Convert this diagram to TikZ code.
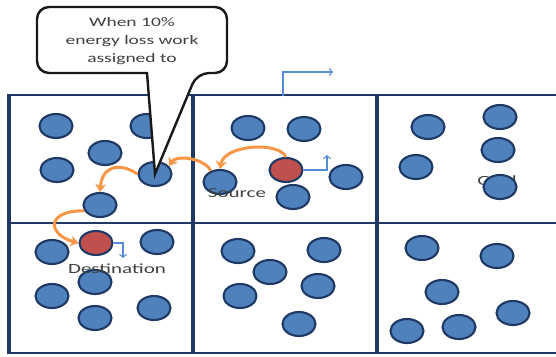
\documentclass[tikz,border=0pt]{standalone}
\usepackage{fontspec}
\usetikzlibrary{shapes.geometric,arrows.meta}
\newfontfamily\labelfont[FakeStretch=1.5]{Carlito}
\definecolor{gridline}{HTML}{1F3864}
\definecolor{peerfill}{HTML}{4F81BD}
\definecolor{hotfill}{HTML}{C0504D}
\definecolor{hopline}{HTML}{F79646}
\definecolor{flowline}{HTML}{558ED5}
\definecolor{labeltext}{HTML}{404040}

\begin{document}
\begin{tikzpicture}[x=1pt, y=-1pt,
  peer/.style={ellipse, draw=gridline, line width=2.1pt, fill=peerfill,
    minimum width=33pt, minimum height=24pt, inner sep=0pt},
  hot/.style={peer, fill=hotfill},
  hop/.style={hopline, line width=3pt, -{Stealth[length=8pt,width=11pt]}},
  flow/.style={flowline, line width=1.1pt, -{Straight Barb[length=3pt,width=7pt]}},
  tag/.style={text=labeltext, font=\labelfont\fontsize{14}{16}\selectfont, inner sep=0pt}]

 \useasboundingbox (0,0) rectangle (556,356);

	%grid
    \foreach \y in {95,223,353}{
        \draw[gridline, line width=2.4pt] (9,\y) -- (556,\y);
    }
    \foreach \x in {9,193,377}{
        \draw[gridline, line width=3.4pt] (\x,94) -- (\x,354);
    }

	%goal label sits under its peer
 \node[tag] (goal) at (497,181) {Goal};

	%peers
    \foreach \x/\y/\name in {56/126/a1,147/126/a2,105/153/a3,57/170/a4,155/174/a5,100/205/a6,
                            248/128/b1,304/129/b2,346/177/b3,220/182/sc,293/197/b5,
                            428/127/c1,500/117/c2,498/150/c3,416/167/c4,500/187/c5}{
        \node[peer] (\name) at (\x,\y) {};
    }
    \foreach \x/\y/\name in {52/252/d1,157/242/d2,95/282/d3,52/296/d4,154/308/d5,95/318/d6,
                            238/251/e1,324/250/e2,270/272/e3,318/286/e4,240/296/e5,299/324/e6,
                            422/248/f1,497/256/f2,442/292/f3,513/313/f4,459/327/f5,407/331/f6}{
        \node[peer] (\name) at (\x,\y) {};
    }
 \node[hot] (src) at (286,170) {};
 \node[hot] (dst) at (96,243) {};

 \node[tag] (srclabel) at (237,193) {Source};
 \node[tag] (dstlabel) at (117,269) {Destination};

	%hops
 \draw[hop] (src.north) .. controls +(-8,-16) and +(4,-24) .. (sc.north);
 \draw[hop] (sc.130) .. controls +(-5,-12) and +(8,-12) .. (a5.30);
 \draw[hop] (a5.west) .. controls +(-18,-12) and +(2,-26) .. (a6.north);
 \draw[hop] (a6.200) .. controls +(-40,0) and +(-30,-8) .. (dst.west);

	%moves
 \coordinate (lift) at (283,96);
 \coordinate (lifttip) at (333,72);
 \coordinate (srcup) at (327,155);
 \coordinate (dstdown) at (123,258);
 \draw[flow] (lift) |- (lifttip);
 \draw[flow] (src.east) -| (srcup);
 \draw[flow] (dst.east) -| (dstdown);

	%callout
 \draw[black!90, line width=2.4pt, fill=white, rounded corners=12pt]
     (147,73) -- (37,73) -- (37,7) -- (227,7) -- (227,73) -- (197,73) [sharp corners] -- (a5.center) -- cycle;
 \node[tag, font=\labelfont\fontsize{13}{18}\selectfont, align=center] (note) at (132,41)
     {When 10\%\\energy loss work\\assigned to};

\end{tikzpicture}
\end{document}
